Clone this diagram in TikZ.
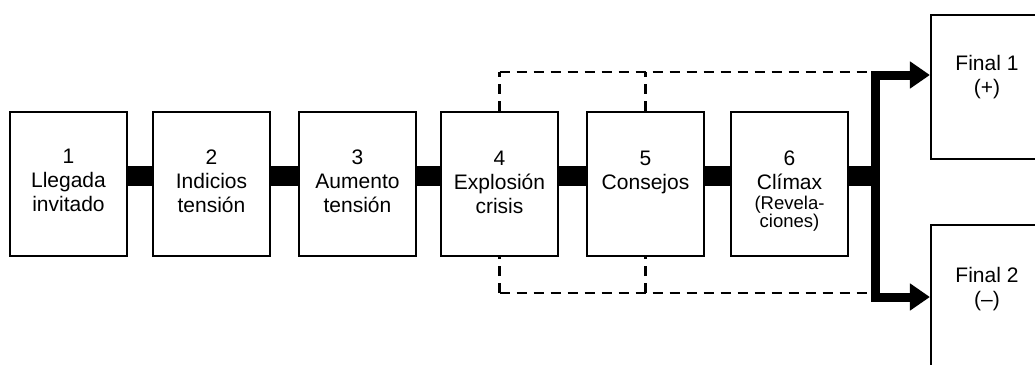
\documentclass[tikz,border=0pt]{standalone}
\usepackage{fontspec}
\setmainfont{Liberation Sans}
\usetikzlibrary{arrows.meta}
\tikzset{
  stage/.style={draw=black, line width=2.2pt, minimum width=117pt, minimum height=144pt, inner sep=0pt},
  label/.style={anchor=north, inner sep=0pt, align=center, font=\fontsize{21}{24}\selectfont},
  conn/.style={line width=20pt},
  fork/.style={line width=9pt, -{Triangle[length=20pt,width=26pt]}},
  dpath/.style={line width=2.2pt, dash pattern=on 10pt off 7pt}
}
\newcommand{\smalltxt}{\fontsize{18.5}{18.5}\selectfont}
\begin{document}
\begin{tikzpicture}[x=1pt,y=-1pt]
\useasboundingbox (0,0) rectangle (1035,364);
\clip (0,0) rectangle (1035,364);
% boxes
\node[stage] (b1) at (68.5,184) {};
\node[stage] (b2) at (211.5,184) {};
\node[stage] (b3) at (357.5,184) {};
\node[stage] (b4) at (499.5,184) {};
\node[stage] (b5) at (645.5,184) {};
\node[stage] (b6) at (789.5,184) {};
\node[stage] (f1) at (989.5,87) {};
\node[stage] (f2) at (989.5,297) {};
% texts
\node[label] (t1) at (68.5,149) {1\\Llegada\\invitado};
\node[label] (t2) at (211.5,150) {2\\Indicios\\tensión};
\node[label] (t3) at (357.5,150) {3\\Aumento\\tensión};
\node[label] (t4) at (499.5,151) {4\\Explosión\\crisis};
\node[label] (t5) at (645.5,151) {5\\Consejos};
\node[label] (t6) at (789.5,151) {6\\Clímax\\[-4pt]{\smalltxt(Revela-}\\[-6pt]{\smalltxt ciones)}};
\node[label] (tf1) at (987,55) {Final 1\\(+)};
\node[label] (tf2) at (987,267) {Final 2\\(–)};
% thick connectors
\draw[conn] ([yshift=8pt]b1.east) -- ([yshift=8pt]b2.west);
\draw[conn] ([yshift=8pt]b2.east) -- ([yshift=8pt]b3.west);
\draw[conn] ([yshift=8pt]b3.east) -- ([yshift=8pt]b4.west);
\draw[conn] ([yshift=8pt]b4.east) -- ([yshift=8pt]b5.west);
\draw[conn] ([yshift=8pt]b5.east) -- ([yshift=8pt]b6.west);
\coordinate (jn) at (875,176);
\draw[conn] ([yshift=8pt]b6.east) -- (880,176);
\draw[fork] (jn) |- ([yshift=12pt]f1.west);
\draw[fork] (jn) |- (f2.west);
% dashed paths
\coordinate (jt) at (870,72);
\coordinate (jb) at (870,293);
\coordinate (c4t) at (b4.north |- jt);
\coordinate (c5t) at (b5.north |- jt);
\coordinate (c4b) at (b4.south |- jb);
\coordinate (c5b) at (b5.south |- jb);
\draw[dpath] (c4t) -- (jt);
\draw[dpath] (b4.north) -- (c4t);
\draw[dpath] (b5.north) -- (c5t);
\draw[dpath] (c4b) -- (jb);
\draw[dpath] (c4b) -- (b4.south);
\draw[dpath] (c5b) -- (b5.south);
\end{tikzpicture}
\end{document}
